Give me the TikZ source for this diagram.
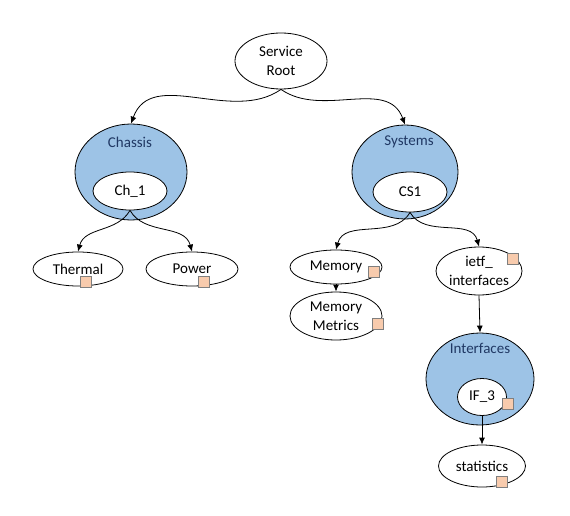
\documentclass[tikz,border=0pt]{standalone}
\usepackage{fontspec}
\setmainfont{Carlito}
\usetikzlibrary{shapes.geometric,arrows.meta}
\definecolor{groupblue}{HTML}{9DC3E6}
\definecolor{labelnavy}{HTML}{203864}
\definecolor{tagfill}{HTML}{F8CBAD}
\definecolor{tagedge}{HTML}{7F7F7F}
\begin{document}
\begin{tikzpicture}[x=1pt,y=-1pt,
  every node/.style={font=\fontsize{15}{19}\selectfont},
  oval/.style={ellipse, draw=black, line width=0.8pt, fill=white, inner sep=0pt, align=center},
  group/.style={ellipse, draw=black, line width=0.8pt, fill=groupblue, inner sep=0pt},
  grouplabel/.style={text=labelnavy, inner sep=0pt},
  tag/.style={rectangle, draw=tagedge, fill=tagfill, line width=0.6pt, minimum size=11pt, inner sep=0pt},
  link/.style={line width=0.8pt, -{Latex[length=7pt,width=6pt]}}]
\useasboundingbox (0,0) rectangle (570,516);

% root
\node[oval, minimum width=92pt, minimum height=56pt] (root) at (281,61) {Service\\Root};

% chassis branch
\node[group, minimum width=112pt, minimum height=96pt] (chassis) at (131,172) {};
\node[grouplabel] (chassisLbl) at (130,142) {Chassis};
\node[oval, minimum width=74pt, minimum height=38pt] (ch1) at (130,191) {Ch\_1};
\node[oval, minimum width=90pt, minimum height=34pt] (thermal) at (78,269) {Thermal};
\node[oval, minimum width=92pt, minimum height=34pt] (power) at (192,269) {Power};
\node[tag] (tagThermal) at (86,282) {};
\node[tag] (tagPower) at (204,282) {};

% systems branch
\node[group, minimum width=106pt, minimum height=94pt] (systems) at (405,172) {};
\node[grouplabel] (systemsLbl) at (409,142) {Systems};
\node[oval, minimum width=74pt, minimum height=40pt] (cs1) at (410,192) {CS1};
\node[oval, minimum width=92pt, minimum height=34pt] (memory) at (336,267) {Memory};
\node[tag] (tagMemory) at (374,272) {};
\node[oval, minimum width=92pt, minimum height=48pt] (memmetrics) at (336,316) {Memory\\Metrics};
\node[tag] (tagMetrics) at (378,324) {};
\node[oval, minimum width=86pt, minimum height=48pt] (ietf) at (479,271) {ietf\_\\interfaces};
\node[tag] (tagIetf) at (513,259) {};

% interfaces list
\node[group, minimum width=108pt, minimum height=92pt] (interfaces) at (480,379) {};
\node[grouplabel] (interfacesLbl) at (480,348) {Interfaces};
\node[oval, minimum width=49pt, minimum height=37pt] (if3) at (482,397) {IF\_3};
\node[tag] (tagIf3) at (508,404) {};
\node[oval, minimum width=87pt, minimum height=42pt] (stats) at (482,466) {statistics};
\node[tag] (tagStats) at (502,482) {};

% connectors
\draw[link] (root.south) to[out=-145,in=70] (chassis.north);
\draw[link] (root.south) to[out=-35,in=110] (systems.north);
\draw[link] (ch1.south) to[out=-120,in=75] (thermal.north);
\draw[link] (ch1.south) to[out=-60,in=105] (power.north);
\draw[link] (cs1.south) to[out=-120,in=75] (memory.north);
\draw[link] (cs1.south) to[out=-60,in=105] (ietf.north);
\draw[link] (memory.south) -- (memmetrics.north);
\draw[link] (ietf.south) -- (interfaces.north);
\draw[link] (if3.south) -- (stats.north);
\end{tikzpicture}
\end{document}
